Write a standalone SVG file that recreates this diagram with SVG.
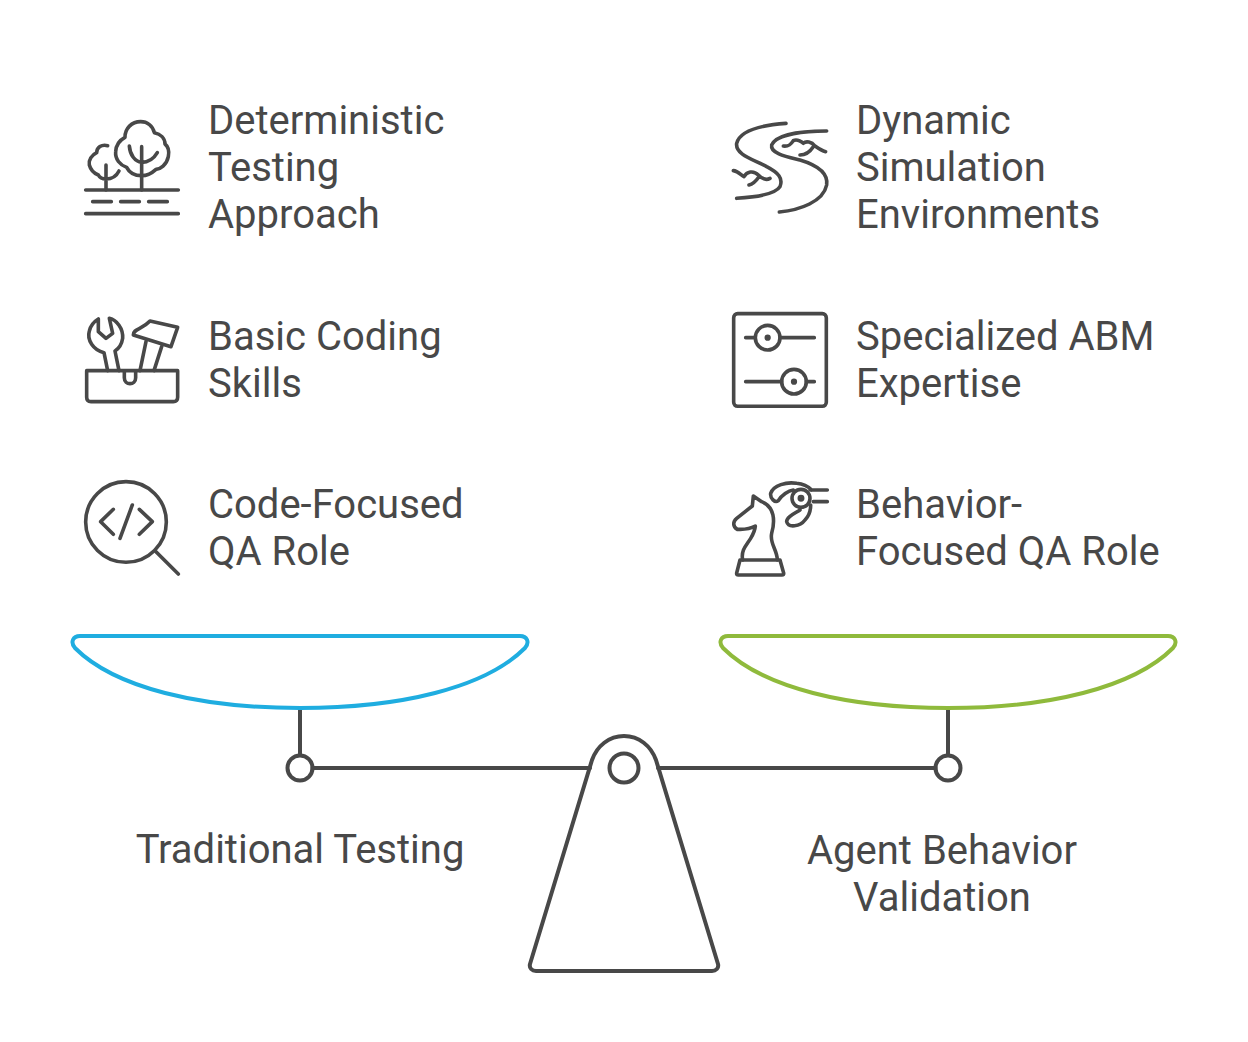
<svg xmlns="http://www.w3.org/2000/svg" width="1248" height="1042" viewBox="0 0 1248 1042">
<style>
text{font-family:Roboto,"Liberation Sans",sans-serif;font-size:40px;fill:#484848}
.c{text-anchor:middle}
.s{fill:none;stroke:#484848;stroke-linecap:round;stroke-linejoin:round}
.i{stroke-width:10.800}
.b{stroke-width:4}
</style>
<rect width="1248" height="1042" fill="#fff"/>
<g id="connectors" class="s b">
<path d="M300 708V755M312.500 768H590M658 768H935.500M948 708V755"/>
</g>
<g id="pan-left"><path class="s" style="stroke:#1fade0;stroke-width:4" d="M80 636H520C527 636 530 642 525 648C485 688 400 708 300 708C200 708 115 688 75 648C70 642 73 636 80 636Z"/></g>
<g id="pan-right"><path class="s" style="stroke:#8fba3c;stroke-width:4" d="M728 636H1168C1175 636 1178 642 1173 648C1133 688 1048 708 948 708C848 708 763 688 723 648C718 642 721 636 728 636Z"/></g>
<g id="joint-left"><circle class="s b" cx="300" cy="768" r="12.500"/></g>
<g id="joint-right"><circle class="s b" cx="948" cy="768" r="12.500"/></g>
<g id="fulcrum" class="s b">
<path d="M592 760C597 746 609 736 624 736C639 736 651 746 656 760L718 964C719 968 716 971 712 971H536C532 971 529 968 530 964Z"/>
<circle cx="624" cy="768" r="14.500"/>
</g>
<g id="label-traditional"><text class="c" x="300" y="863">Traditional Testing</text></g>
<g id="label-agent"><text class="c" x="942" y="864">Agent Behavior</text><text class="c" x="942" y="911">Validation</text></g>
<g id="item-deterministic">
<g class="s i" transform="translate(70 110) scale(.3333)">
<path d="M47 240H325M68 275H124M152 275H208M236 275H292M47 311H325"/>
<path d="M215 197C195 197 178 188 170 172C150 165 135 148 137 125C138 105 150 90 165 82C165 55 185 35 212 35C232 35 248 48 253 68C272 72 285 85 285 102C295 110 298 125 295 140C290 165 270 178 258 178C245 190 232 197 215 197Z"/>
<path d="M215 110V240M178 108C180 135 195 155 215 157C235 157 252 145 262 128"/>
<path d="M113 107C95 102 80 112 80 128C65 135 55 150 58 165C62 180 72 190 85 195C90 205 100 207 108 207C125 207 140 197 147 183M108 165V240"/>
</g>
<text x="208" y="134">Deterministic</text><text x="208" y="181">Testing</text><text x="208" y="228">Approach</text>
</g>
<g id="item-dynamic">
<g class="s i" transform="translate(720 110) scale(.3333)">
<path d="M198 40C130 45 60 60 50 100C45 135 105 150 140 170C175 188 190 205 180 230C165 255 100 262 50 265"/>
<path d="M320 63C260 63 170 70 155 105C150 130 200 140 240 150C290 165 325 190 320 225C310 275 240 300 178 306"/>
<path d="M190 108C205 110 212 105 220 92C232 85 248 98 250 100C258 92 275 95 285 108C295 115 305 122 317 125M240 135C255 135 270 125 280 110"/>
<path d="M40 182C55 183 62 195 72 200C80 185 100 180 115 195C125 205 138 212 150 205M87 225C100 222 110 210 117 200"/>
</g>
<text x="856" y="134">Dynamic</text><text x="856" y="181">Simulation</text><text x="856" y="228">Environments</text>
</g>
<g id="item-basic">
<g class="s i" transform="translate(70 305) scale(.3333)">
<path d="M50 197H323V277Q323 290 310 290H63Q50 290 50 277ZM163 200V218C163 242 197 242 197 218V200"/>
<path d="M113 197L102 143C70 135 50 105 58 78C62 60 72 50 85 42L85 80L108 100L128 85L118 40C140 45 160 70 158 100C155 120 148 130 135 138L147 197"/>
<path d="M190 90C190 70 215 75 240 48L323 67L303 125ZM228 110L210 197M275 125L252 197"/>
</g>
<text x="208" y="350">Basic Coding</text><text x="208" y="397">Skills</text>
</g>
<g id="item-specialized">
<g class="s i" transform="translate(720 305) scale(.3333)">
<rect x="41" y="26" width="278" height="278" rx="12"/>
<path d="M77 98H106M180 98H283M77 230H185M259 230H283"/>
<circle cx="143" cy="98" r="37"/><circle cx="222" cy="230" r="37"/>
<circle cx="143" cy="98" r="4" fill="#484848"/><circle cx="222" cy="230" r="4" fill="#484848"/>
</g>
<text x="856" y="350">Specialized ABM</text><text x="856" y="397">Expertise</text>
</g>
<g id="item-code">
<g class="s i" transform="translate(70 470) scale(.3333)">
<circle cx="168" cy="156" r="121"/>
<path d="M258 245L325 312M130 118L92 155L130 193M208 118L247 155L208 193M187 105L150 205"/>
</g>
<text x="208" y="518">Code-Focused</text><text x="208" y="565">QA Role</text>
</g>
<g id="item-behavior">
<g class="s i" transform="translate(720 470) scale(.3333)">
<path d="M60 270H180L191 309Q192 315 186 315H55Q49 315 50 309Z"/>
<path d="M68 270C62 240 80 225 92 205C100 192 105 180 106 168C85 180 70 178 52 178C38 170 38 155 50 145L97 108L100 78L125 95C165 110 165 155 155 190C148 220 172 240 172 270"/>
<circle cx="243" cy="85" r="27"/><circle cx="243" cy="85" r="5" fill="#484848"/>
<path d="M270 60H322M280 95H322M175 92C165 100 150 85 152 70C160 45 200 35 230 40C250 42 265 50 275 60M175 92C185 75 205 62 220 60M240 120C225 130 200 140 200 155C205 175 240 170 255 150C270 135 272 120 272 105"/>
</g>
<text x="856" y="518">Behavior-</text><text x="856" y="565">Focused QA Role</text>
</g>
</svg>
